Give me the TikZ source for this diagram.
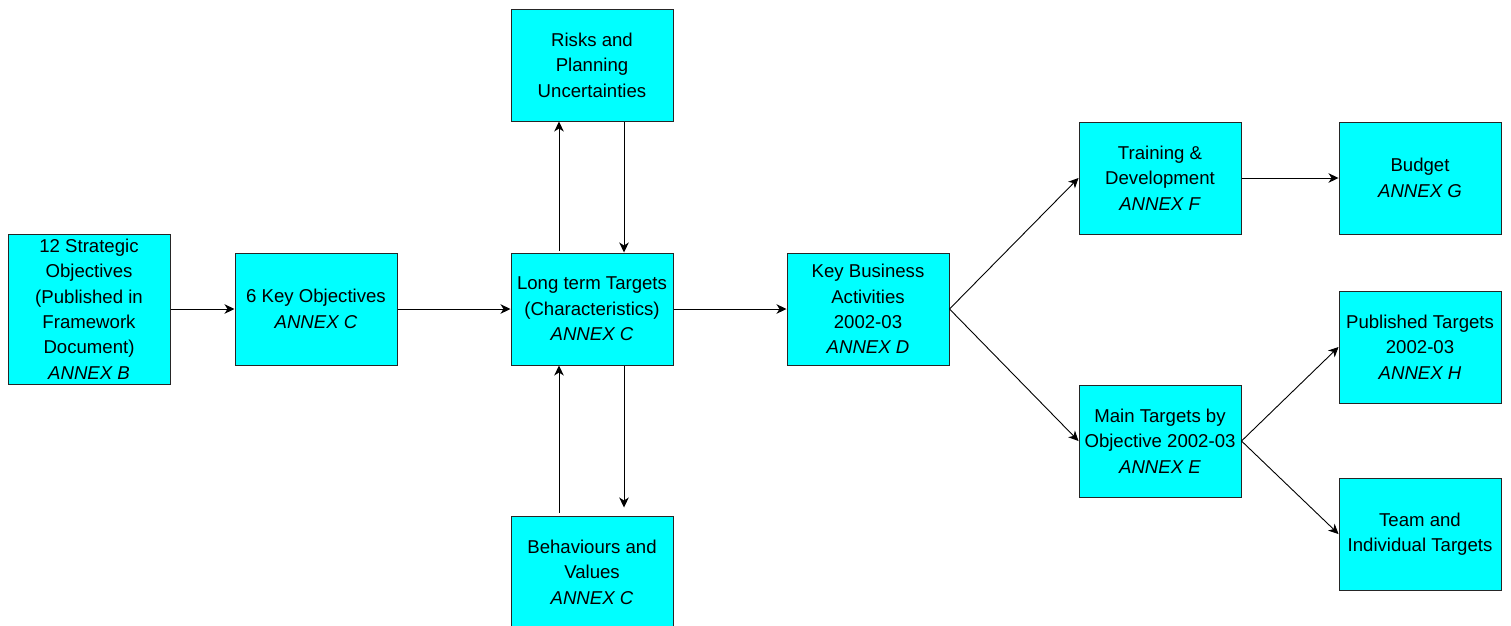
\documentclass[tikz,border=0pt]{standalone}
\usepackage{fontspec}
\setmainfont{Liberation Sans}
\usetikzlibrary{arrows.meta,calc}
\definecolor{boxcyan}{HTML}{00FFFF}
\begin{document}
\begin{tikzpicture}[x=1pt,y=-1pt,
  box/.style={draw=black!85, line width=1pt, fill=boxcyan, rectangle,
    minimum width=162pt, minimum height=112pt, inner sep=0pt, align=center,
    font=\fontsize{18.6}{25.4}\selectfont},
  conn/.style={draw=black, line width=0.9pt, -{Stealth[length=10pt,width=9.5pt,inset=3pt]}}]
\useasboundingbox (0,0) rectangle (1511,625);
\node[box, minimum height=150pt] (A) at (89,309) {12 Strategic\\Objectives\\(Published in\\Framework\\Document)\\\textit{ANNEX B}};
\node[box] (B) at (316,309) {6 Key Objectives\\\textit{ANNEX C}};
\node[box] (C) at (592,309) {Long term Targets\\(Characteristics)\\\textit{ANNEX C}};
\node[box] (R) at (592,65) {Risks and\\Planning\\Uncertainties};
\node[box] (V) at (592,572) {Behaviours and\\Values\\\textit{ANNEX C}};
\node[box] (K) at (868,309) {Key Business\\Activities\\2002-03\\\textit{ANNEX D}};
\node[box] (T) at (1160,178) {Training \&\\Development\\\textit{ANNEX F}};
\node[box] (G) at (1420,178) {Budget\\\textit{ANNEX G}};
\node[box] (M) at (1160,441) {Main Targets by\\Objective 2002-03\\\textit{ANNEX E}};
\node[box] (P) at (1420,347) {Published Targets\\2002-03\\\textit{ANNEX H}};
\node[box] (TM) at (1420,534) {Team and\\Individual Targets};
\draw[conn] (A.east) -- (B.west);
\draw[conn] (B.east) -- (C.west);
\draw[conn] ($(C.north)+(-33,-2)$) -- ($(R.south)+(-33,0)$);
\draw[conn] ($(R.south)+(32,0)$) -- ($(C.north)+(32,0)$);
\draw[conn] ($(C.south)+(32,0)$) -- ($(V.north)+(32,-8)$);
\draw[conn] ($(V.north)+(-33,-3)$) -- ($(C.south)+(-33,0)$);
\draw[conn] (C.east) -- (K.west);
\draw[conn] (K.east) -- (T.west);
\draw[conn] (K.east) -- (M.west);
\draw[conn] (T.east) -- (G.west);
\draw[conn] (M.east) -- (P.west);
\draw[conn] (M.east) -- (TM.west);
\end{tikzpicture}
\end{document}
